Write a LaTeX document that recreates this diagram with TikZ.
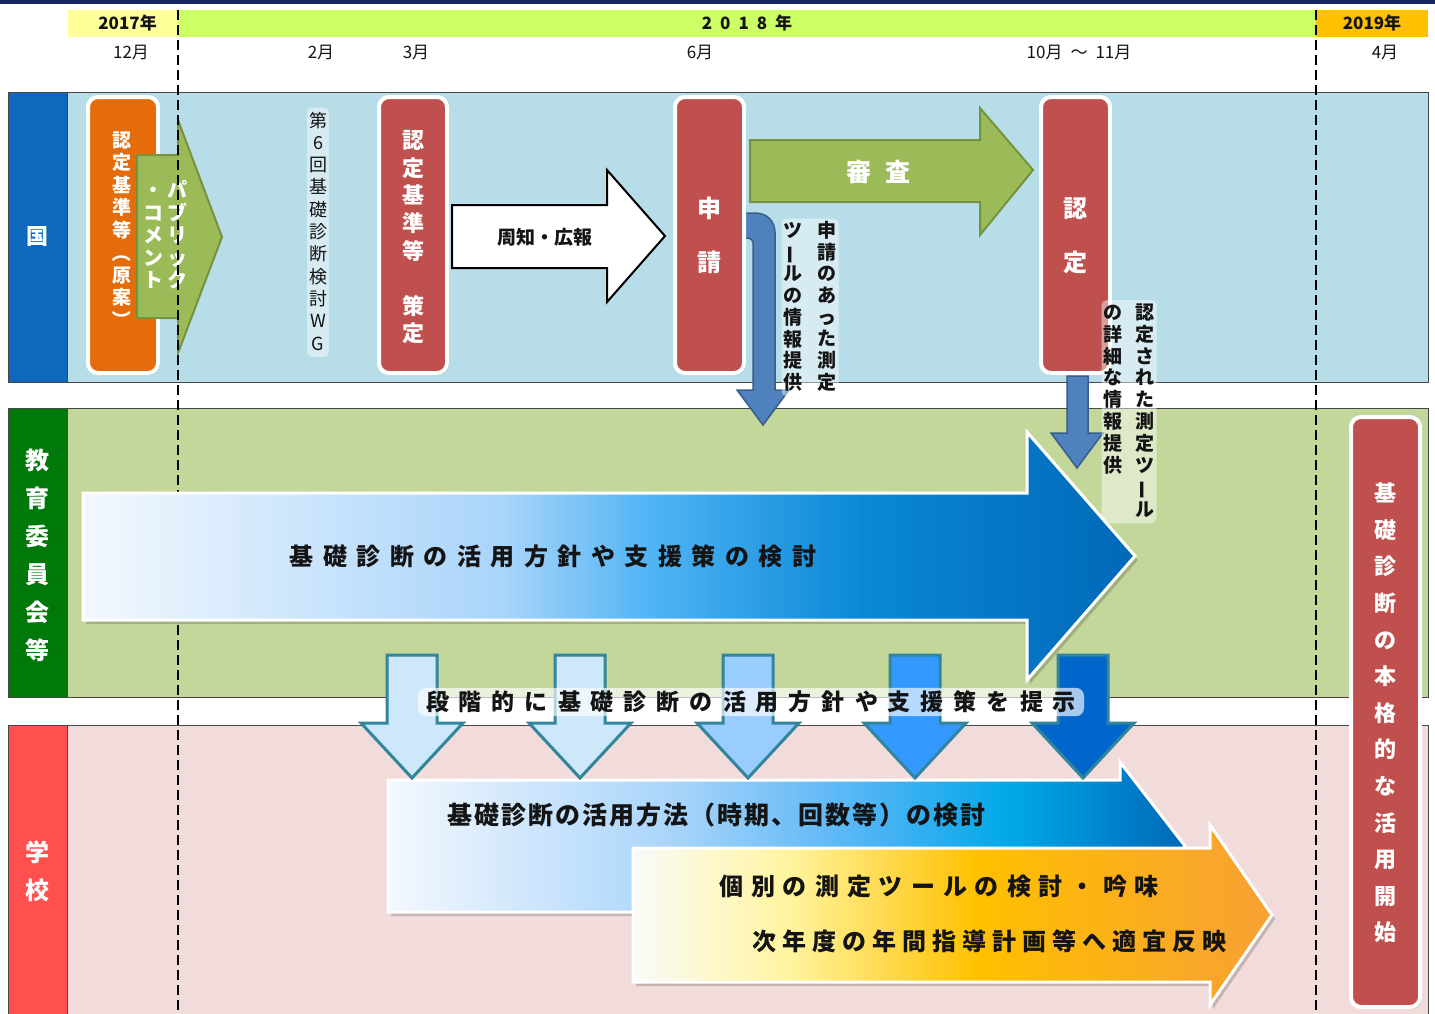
\documentclass[tikz,border=0pt]{standalone}
\usepackage{fontspec}
\setmainfont{Noto Sans CJK JP}
\usepackage{graphicx}
\usetikzlibrary{shadows}
\definecolor{navy}{RGB}{23,38,94}
\definecolor{hdyellow}{RGB}{255,255,153}
\definecolor{hdgreen}{RGB}{204,255,102}
\definecolor{hdorange}{RGB}{255,192,0}
\definecolor{kokulab}{RGB}{16,104,188}
\definecolor{kokubg}{RGB}{183,221,232}
\definecolor{kyolab}{RGB}{0,120,10}
\definecolor{kyobg}{RGB}{196,215,155}
\definecolor{gakulab}{RGB}{255,80,80}
\definecolor{gakubg}{RGB}{242,220,219}
\definecolor{boxred}{RGB}{192,80,77}
\definecolor{boxorange}{RGB}{228,108,10}
\definecolor{argreen}{RGB}{155,187,89}
\definecolor{argreenbd}{RGB}{118,146,60}
\definecolor{arblue}{RGB}{79,129,189}
\definecolor{arbluebd}{RGB}{56,93,138}
\definecolor{dteal}{RGB}{49,133,156}
\definecolor{dA}{RGB}{204,232,250}
\definecolor{dB}{RGB}{153,204,255}
\definecolor{dC}{RGB}{51,153,255}
\definecolor{dD}{RGB}{0,102,204}
\definecolor{laneline}{RGB}{70,70,70}
\definecolor{txtdark}{RGB}{20,20,20}
\definecolor{gA}{RGB}{244,248,254}
\definecolor{gB}{RGB}{168,212,250}
\definecolor{gC}{RGB}{80,180,245}
\definecolor{gD}{RGB}{10,136,214}
\definecolor{gE}{RGB}{0,104,184}
\definecolor{oA}{RGB}{250,250,250}
\definecolor{oB}{RGB}{255,245,160}
\definecolor{oC}{RGB}{255,192,0}
\definecolor{oD}{RGB}{247,160,53}
\definecolor{sA}{RGB}{0,168,232}
\pgfdeclarehorizontalshading{bigblue}{100bp}{color(0bp)=(gA); color(25bp)=(gA); color(45bp)=(gB); color(52bp)=(gC); color(62bp)=(gD); color(75bp)=(gE); color(100bp)=(gE)}
\pgfdeclarehorizontalshading{schblue}{100bp}{color(0bp)=(gA); color(25bp)=(gA); color(43bp)=(gB); color(55bp)=(gC); color(64bp)=(sA); color(75bp)=(gE); color(100bp)=(gE)}
\pgfdeclarehorizontalshading{schorange}{100bp}{color(0bp)=(oA); color(25bp)=(oA); color(37bp)=(oB); color(52bp)=(oC); color(75bp)=(oD); color(100bp)=(oD)}
\makeatletter
\newcommand\vtxt[2]{\vtop{\offinterlineskip\@tfor\vt@c:=#2\do{\hbox to 1em{\hss\vrule width 0pt height \dimexpr #1*78/100\relax depth \dimexpr #1*22/100\relax\vt@c\hss}}}}
\newcommand\hsp[2]{\def\hs@sep{}\@tfor\hs@c:=#2\do{\hs@sep\hs@c\def\hs@sep{\hspace{#1}}}}
\makeatother
\newcommand\vbar{\rotatebox[origin=c]{90}{ー}}
\newcommand\vlp{\rotatebox[origin=c]{-90}{（}}
\newcommand\vrp{\rotatebox[origin=c]{-90}{）}}
\begin{document}
\begin{tikzpicture}[x=1pt,y=-1pt,
  lanebd/.style={draw=laneline, line width=1pt},
  lab/.style={font=\fontsize{24}{24}\selectfont\bfseries, text=white, inner sep=0pt},
  yr/.style={font=\fontsize{17}{17}\selectfont\bfseries, text=txtdark, inner sep=0pt},
  mon/.style={font=\fontsize{17}{17}\selectfont, text=txtdark, inner sep=0pt},
  rbox/.style={draw=white, line width=4pt, rounded corners=10pt, drop shadow={opacity=0.25, shadow xshift=2pt, shadow yshift=-2pt}},
  wtxt/.style={text=white, inner sep=0pt},
  dtxt/.style={text=txtdark, inner sep=0pt},
  glow/.style={fill=white, fill opacity=0.45, text opacity=1, rounded corners=5pt, inner sep=2pt},
  darr/.style={draw=dteal, line width=3pt, line join=miter},
  dash1/.style={draw=black, line width=2pt, dash pattern=on 10pt off 5pt}
]
\useasboundingbox (0,0) rectangle (1435,1013);
\fill[white] (0,0) rectangle (1435,1013);
\fill[navy] (0,0) rectangle (1435,4);
% header
\fill[hdyellow] (68,10) rectangle (178,37);
\fill[hdgreen] (178,10) rectangle (1316,37);
\fill[hdorange] (1316,10) rectangle (1428,37);
\node[yr, anchor=east] (y17) at (157,23) {2017年};
\node[yr] (y18) at (747,23) {\hsp{8pt}{2018年}};
\node[yr] (y19) at (1372,23) {2019年};
\node[mon] (m12) at (131,52) {12月};
\node[mon] (m2) at (321,52) {2月};
\node[mon] (m3) at (416,52) {3月};
\node[mon] (m6) at (700,52) {6月};
\node[mon] (m10) at (1079,52) {10月\hspace{8pt}～\hspace{8pt}11月};
\node[mon] (m4) at (1385,52) {4月};
% lanes
\draw[lanebd, fill=kokubg] (67,92) rectangle (1428,382);
\draw[lanebd, fill=kokulab] (8,92) rectangle (67,382);
\draw[lanebd, fill=kyobg] (67,408) rectangle (1428,697);
\draw[lanebd, fill=kyolab] (8,408) rectangle (67,697);
\draw[lanebd, fill=gakubg] (67,725) rectangle (1428,1020);
\draw[lanebd, fill=gakulab] (8,725) rectangle (67,1020);
\node[lab, font=\fontsize{22}{22}\selectfont\bfseries] (lkoku) at (37,237) {国};
\node[lab, anchor=north] (lkyo) at (37,439.5) {\vtxt{38pt}{教育委員会等}};
\node[lab, anchor=north] (lgaku) at (37,831.5) {\vtxt{38pt}{学校}};
% kuni lane
\draw[rbox, fill=boxorange] (88,97) rectangle (158,373);
\node[wtxt, anchor=north, font=\fontsize{19}{19}\selectfont\bfseries] (gen) at (122,129.7) {\vtxt{22.5pt}{認定基準等\vlp 原案\vrp}};
\draw[fill=argreen, draw=argreenbd, line width=2pt, line join=miter] (137,155) -- (178,155) -- (178,120) -- (222,237) -- (178,353) -- (178,318) -- (137,318) -- cycle;
\node[wtxt, anchor=north, font=\fontsize{20}{20}\selectfont\bfseries] (pub) at (165,180) {\vtxt{22.5pt}{・コメント}\hspace{4pt}\vtxt{22.5pt}{パブリック}};
\node[dtxt, glow, anchor=north, font=\fontsize{18}{18}\selectfont] (wg) at (318,107.4) {\vtxt{22.3pt}{第6回基礎診断検討WG}};
\draw[rbox, fill=boxred] (379,97) rectangle (447,373);
\node[wtxt, anchor=north, font=\fontsize{22}{22}\selectfont\bfseries] (sakutei) at (413,127) {\vtxt{27.6pt}{認定基準等　策定}};
\draw[fill=white, draw=black, line width=2pt, line join=miter] (452,205) -- (607,205) -- (607,170) -- (665,236) -- (607,302) -- (607,268) -- (452,268) -- cycle;
\node[dtxt, font=\fontsize{19}{19}\selectfont\bfseries] (shuchi) at (545,237) {周知・広報};
\draw[fill=argreen, draw=argreenbd, line width=2pt, line join=miter] (750,140) -- (980,140) -- (980,108) -- (1033,170) -- (980,235) -- (980,202) -- (750,202) -- cycle;
\node[wtxt, font=\fontsize{25}{25}\selectfont\bfseries] (shinsa) at (878,172) {審\hspace{14pt}査};
\draw[fill=arblue, draw=arbluebd, line width=1.5pt, line join=miter] (735,213) -- (755,213) .. controls (767,213) and (775,221) .. (775,233) -- (775,390) -- (789,390) -- (763,425) -- (737,390) -- (753,390) -- (753,243) .. controls (753,240) and (751,238) .. (748,238) -- (735,238) -- cycle;
\draw[rbox, fill=boxred] (675,97) rectangle (744,373);
\node[wtxt, anchor=north, font=\fontsize{24}{24}\selectfont\bfseries] (shinsei) at (709.5,175) {\vtxt{54pt}{申請}};
\node[dtxt, glow, anchor=north, font=\fontsize{19}{19}\selectfont\bfseries] (info1) at (810,218.3) {\vtxt{21.7pt}{ツ\vbar ルの情報提供}\hspace{15pt}\vtxt{21.7pt}{申請のあった測定}};
\draw[rbox, fill=boxred] (1041,97) rectangle (1110,373);
\node[wtxt, anchor=north, font=\fontsize{24}{24}\selectfont\bfseries] (nintei) at (1075.5,175) {\vtxt{54pt}{認定}};
% dashed lines
\draw[dash1] (178,10) -- (178,1013);
\draw[dash1] (1316,10) -- (1316,1013);
% kyoiku lane
\fill[black, opacity=0.18] (86,497) -- (1030,497) -- (1030,436) -- (1138,560) -- (1030,684) -- (1030,624) -- (86,624) -- cycle;
\shade[shading=bigblue, draw=white, line width=3pt, line join=miter] (83,493) -- (1027,493) -- (1027,432) -- (1135,556) -- (1027,680) -- (1027,620) -- (83,620) -- cycle;
\node[dtxt, font=\fontsize{24}{24}\selectfont\bfseries] (kento1) at (553,556) {\hsp{9.5pt}{基礎診断の活用方針や支援策の検討}};
\draw[fill=arblue, draw=arbluebd, line width=1.5pt, line join=miter] (1067,376) -- (1088,376) -- (1088,433) -- (1103,433) -- (1077,468) -- (1051,433) -- (1067,433) -- cycle;
\node[dtxt, glow, anchor=north, font=\fontsize{19}{19}\selectfont\bfseries] (info2) at (1129,300) {\vtxt{21.9pt}{の詳細な情報提供}\hspace{13pt}\vtxt{21.9pt}{認定された測定ツ\vbar ル}};
% school lane
\fill[black, opacity=0.18] (391,784) -- (1123,784) -- (1123,766) -- (1188,850) -- (1123,934) -- (1123,916) -- (391,916) -- cycle;
\shade[shading=schblue, draw=white, line width=3pt, line join=miter] (388,780) -- (1120,780) -- (1120,762) -- (1185,846) -- (1120,930) -- (1120,912) -- (388,912) -- cycle;
\node[dtxt, font=\fontsize{25}{25}\selectfont\bfseries] (kento2) at (716,815) {\hsp{2pt}{基礎診断の活用方法（時期、回数等）の検討}};
\fill[black, opacity=0.18] (636,852) -- (1213,852) -- (1213,829) -- (1275,919) -- (1213,1009) -- (1213,986) -- (636,986) -- cycle;
\shade[shading=schorange, draw=white, line width=3pt, line join=miter] (633,848) -- (1210,848) -- (1210,825) -- (1272,915) -- (1210,1005) -- (1210,982) -- (633,982) -- cycle;
\node[dtxt, font=\fontsize{24}{24}\selectfont\bfseries] (kobetsu) at (939,886) {\hsp{8pt}{個別の測定ツールの検討・吟味}};
\node[dtxt, font=\fontsize{24}{24}\selectfont\bfseries] (jinendo) at (989,941) {\hsp{6pt}{次年度の年間指導計画等へ適宜反映}};
% down arrows
\foreach \cx/\cl [count=\i] in {412/dA, 580/dA, 748/dB, 915/dC, 1083/dD} {
  \draw[darr, fill=\cl] (\cx-25,655) -- (\cx+25,655) -- (\cx+25,723) -- (\cx+51,723) -- (\cx,778) -- (\cx-51,723) -- (\cx-25,723) -- cycle;
}
\node[dtxt, fill=white, fill opacity=0.65, text opacity=1, rounded corners=8pt, inner xsep=8pt, inner ysep=3pt, font=\fontsize{23}{23}\selectfont\bfseries] (teiji) at (751,702) {\hsp{10pt}{段階的に基礎診断の活用方針や支援策を提示}};
% 2019 box
\draw[rbox, fill=boxred] (1351,417) rectangle (1420,1007);
\node[wtxt, anchor=north, font=\fontsize{22}{22}\selectfont\bfseries] (honkaku) at (1385.5,472.9) {\vtxt{36.6pt}{基礎診断の本格的な活用開始}};
\end{tikzpicture}
\end{document}
